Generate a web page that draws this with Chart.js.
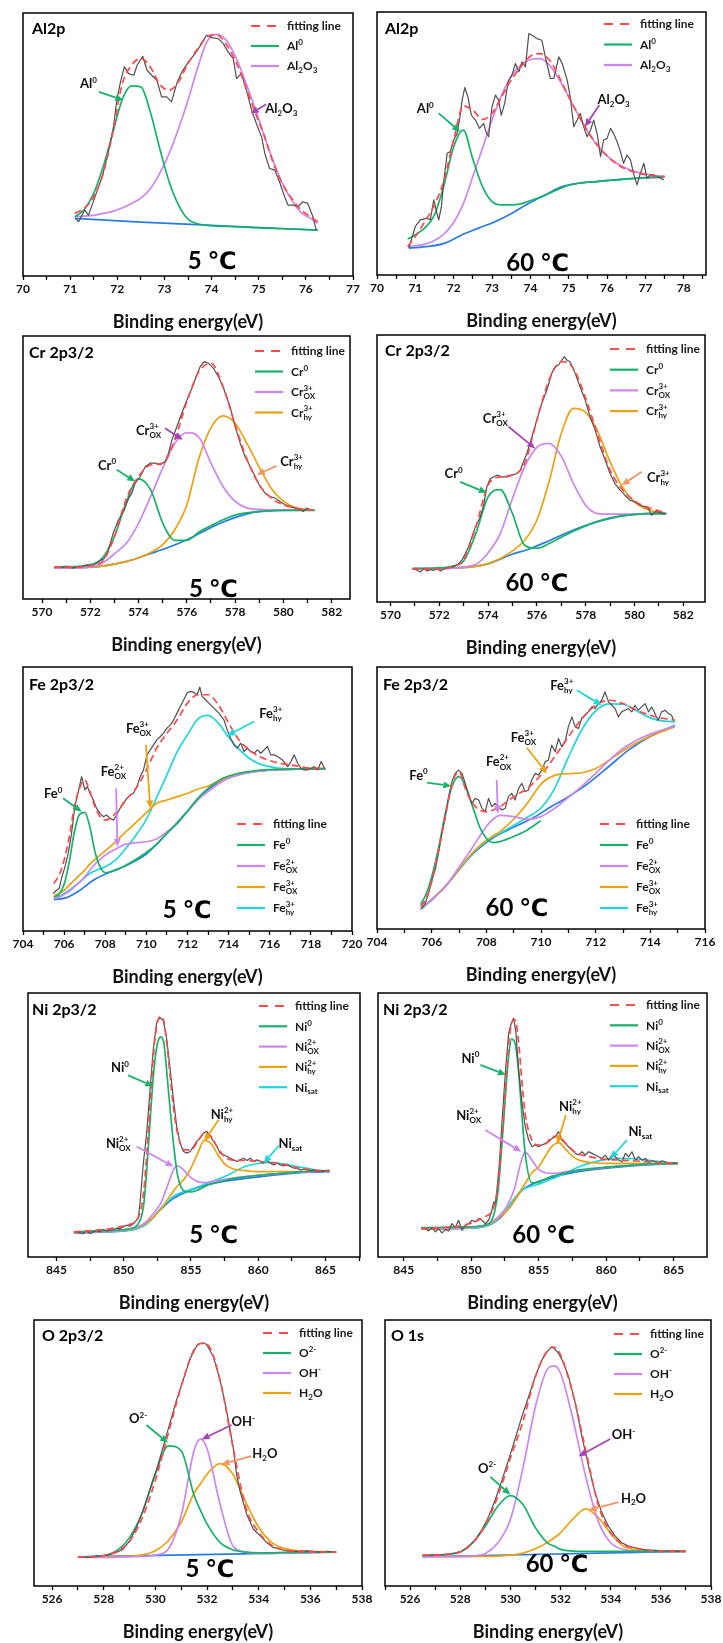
<!DOCTYPE html>
<html>
<head>
<meta charset="utf-8">
<script src="https://cdn.jsdelivr.net/npm/chart.js@4"></script>
<style>
html, body { margin: 0; padding: 0; background: #fff; }
#page { position: relative; width: 723px; height: 1643px; overflow: hidden; }
#page canvas { position: absolute; }
</style>
</head>
<body>
<div id="page"></div>
<script>
// ---- Al 2p, 5 C ----
const al5_rawE = [71.11,71.18,71.31,71.39,71.54,71.68,71.82,71.92,71.99,72.06,72.15,72.24,72.35,72.42,72.54,72.63,72.73,72.84,72.94,73.05,73.15,73.26,73.37,73.51,73.65,73.79,73.89,74.00,74.14,74.25,74.35,74.46,74.53,74.63,74.74,74.85,74.95,75.06,75.13,75.23,75.34,75.44,75.55,75.62,75.73,75.83,75.94,76.04,76.15,76.22];
const al5_raw = [173,163,198,183,243,298,378,448,528,578,628,608,603,633,660,618,603,588,538,538,523,578,613,643,668,698,723,716,713,698,673,653,593,608,558,498,458,418,368,323,318,283,238,213,213,208,223,218,178,138];
const al5_E = [71.1,71.3,71.5,71.7,71.9,72.1,72.3,72.5,72.7,72.9,73.1,73.3,73.5,73.7,73.9,74.1,74.3,74.5,74.7,74.9,75.1,75.3,75.5,75.7,75.9,76.1,76.25];
const al5_fit = [188,203,238,308,428,573,633,653,628,576,558,584,638,682,718,725,698,648,578,500,428,343,278,233,198,178,163];
const al5_al0 = [177,200,248,328,428,528,571,568,493,383,283,213,171,157,152,150,149,148,147,145,144,143,142,141,140,139,138];
const al5_al2o3 = [178,180,182,188,194,204,218,234,262,308,368,443,528,623,703,726,710,661,591,513,428,348,278,228,190,173,158];
const al5_bgE = [71.1,72.5,74.0,76.25];
const al5_bg = [173,162,152,138];

// ---- Al 2p, 60 C ----
const al60_rawE = [70.83,70.91,71.00,71.13,71.30,71.39,71.48,71.54,71.61,71.68,71.74,71.83,71.91,72.00,72.09,72.17,72.22,72.29,72.37,72.46,72.57,72.67,72.78,72.84,72.91,73.00,73.09,73.17,73.24,73.33,73.42,73.52,73.61,73.70,73.78,73.87,73.96,74.04,74.17,74.30,74.39,74.52,74.61,74.74,74.83,74.96,75.04,75.13,75.22,75.30,75.39,75.48,75.57,75.65,75.74,75.83,75.91,76.00,76.09,76.17,76.26,76.35,76.43,76.52,76.61,76.70,76.78,76.87,76.96,77.04,77.13,77.22,77.30,77.39,77.48];
const al60_raw = [81,111,146,166,171,166,226,196,166,206,281,366,371,406,426,481,526,564,536,481,466,441,456,431,416,506,541,526,481,516,581,601,636,611,641,626,726,721,711,706,656,591,591,656,636,586,536,446,466,486,446,416,436,466,426,356,406,411,441,426,401,371,336,361,346,301,271,306,336,291,301,301,296,291,286];
const al60_E = [70.8,71.0,71.25,71.5,71.75,72.0,72.25,72.5,72.75,73.0,73.25,73.5,73.75,74.0,74.25,74.5,74.75,75.0,75.25,75.5,75.75,76.0,76.25,76.5,76.75,77.0,77.25,77.5];
const al60_fit = [86,116,161,211,286,406,508,496,468,486,536,586,626,658,666,646,596,536,481,431,391,358,334,318,308,302,298,296];
const al60_al0 = [108,121,142,181,271,386,436,348,266,221,211,211,214,224,234,246,259,270,276,279,281,284,286,289,291,293,295,296];
const al60_al2o3 = [85,88,93,104,124,158,214,296,381,466,541,598,631,648,651,631,588,536,481,431,389,358,336,321,310,304,299,296];
const al60_bgE = [70.83,71.35,71.78,72.22,72.65,73.09,73.52,73.96,74.39,74.83,75.26,75.70,76.57,77.48];
const al60_bg = [81,86,96,121,141,161,186,216,241,266,276,281,289,294];

// ---- Cr 2p3/2, 5 C ----
const cr5_rawE = [570.69,570.83,571.03,571.24,571.45,571.66,571.86,572.07,572.28,572.41,572.55,572.69,572.83,572.97,573.17,573.38,573.59,573.72,573.86,574.07,574.28,574.48,574.69,574.90,575.10,575.24,575.38,575.59,575.79,576.00,576.21,576.41,576.55,576.72,576.90,577.10,577.31,577.52,577.79,578.00,578.21,578.41,578.62,578.83,579.03,579.24,579.45,579.66,579.86,580.07,580.28,580.48,580.69,580.83,580.97,581.10];
const cr5_raw = [93,96,98,93,96,98,103,100,108,116,120,133,168,203,238,263,303,318,348,368,398,408,408,403,413,438,478,518,558,598,633,673,698,713,708,693,668,633,578,518,468,428,398,368,338,318,308,303,293,283,278,273,268,263,273,268];
const cr5_E = [570.5,571,571.5,572,572.5,573,573.5,574,574.5,575,575.5,576,576.5,577,577.5,578,578.5,579,579.5,580,580.5,581,581.3];
const cr5_fit = [96,96,96,100,113,188,303,368,403,408,478,593,683,708,638,523,418,343,303,283,273,268,266];
const cr5_cr0 = [96,97,98,103,123,188,293,361,328,228,176,176,201,220,238,252,259,263,265,266,266,266,266];
const cr5_ox = [93,93,94,96,108,136,168,228,308,393,468,500,486,408,338,293,273,269,268,268,268,268,268];
const cr5_hy = [93,94,95,96,99,105,113,124,140,163,208,283,423,515,550,528,466,396,332,294,275,269,267];
const cr5_bgE = [570.69,572.41,573.52,574.48,575.17,576.00,576.55,577.24,577.93,578.76,579.59,581.10];
const cr5_bg = [93,98,113,136,153,178,198,223,243,260,266,267];

// ---- Cr 2p3/2, 60 C ----
const cr60_rawE = [570.95,571.09,571.23,571.36,571.50,571.64,571.77,571.91,572.05,572.18,572.39,572.59,572.80,572.93,573.07,573.20,573.34,573.48,573.68,573.82,573.95,574.09,574.23,574.36,574.57,574.77,574.98,575.18,575.32,575.45,575.59,575.80,576.00,576.20,576.41,576.61,576.75,576.89,577.02,577.13,577.23,577.36,577.57,577.77,577.98,578.18,578.39,578.59,578.80,579.00,579.20,579.41,579.61,579.82,580.02,580.23,580.43,580.57,580.70,580.84,580.98,581.11,581.25];
const cr60_raw = [100,95,90,100,93,97,95,100,93,99,103,105,115,125,145,165,195,225,255,290,345,370,375,380,375,375,380,385,395,420,445,495,545,595,635,685,705,710,725,735,725,720,685,645,605,555,515,465,425,385,355,335,320,305,300,290,285,280,260,270,270,267,265];
const cr60_E = [570.9,571.5,572,572.5,573,573.5,574,574.5,575,575.5,576,576.5,577,577.5,578,578.5,579,579.5,580,580.5,581,581.3];
const cr60_fit = [100,99,99,105,127,225,350,375,380,415,545,665,720,700,610,500,395,337,303,285,273,268];
const cr60_cr0 = [100,101,102,107,123,205,315,337,265,170,161,175,194,212,228,242,252,259,263,265,265,265];
const cr60_ox = [100,100,100,101,105,113,147,205,310,405,463,475,437,355,290,265,263,263,264,265,265,265];
const cr60_hy = [100,100,101,102,103,107,115,130,153,185,245,360,505,580,568,510,420,345,300,278,268,265];
const cr60_bgE = [570.95,572.93,574.02,574.98,575.66,576.48,577.30,578.11,578.93,579.75,580.57,581.31];
const cr60_bg = [100,103,115,143,158,183,210,232,249,260,265,265];

// ---- Fe 2p3/2, 5 C ----
const fe5_rawE = [705.47,705.63,705.76,705.87,706.04,706.20,706.36,706.52,706.69,706.85,707.01,707.13,707.26,707.42,707.58,707.75,707.91,708.07,708.23,708.40,708.56,708.72,708.89,709.05,709.21,709.37,709.54,709.70,709.86,710.03,710.19,710.35,710.51,710.68,710.84,711.00,711.17,711.33,711.49,711.65,711.82,711.98,712.14,712.31,712.47,712.60,712.71,712.88,713.04,713.28,713.53,713.77,713.93,714.10,714.26,714.42,714.59,714.75,714.91,715.07,715.24,715.40,715.56,715.73,715.89,716.05,716.21,716.38,716.62,716.87,717.03,717.19,717.36,717.52,717.68,717.84,718.01,718.17,718.33,718.50,718.66];
const fe5_raw = [112,122,127,157,192,232,292,372,417,462,422,432,412,392,367,352,342,347,337,332,347,367,382,397,407,412,432,462,482,527,542,557,572,582,592,607,617,632,652,672,692,712,717,714,707,730,702,692,682,667,652,632,602,577,557,547,562,537,547,537,532,542,532,542,552,527,527,522,512,492,507,527,502,487,482,482,487,492,482,507,487];
const fe5_E = [705.5,705.75,706,706.25,706.5,706.75,707,707.25,707.5,707.75,708,708.5,709,709.5,710,710.5,711,711.5,712,712.5,713,713.5,714,714.5,715,715.5,716,716.5,717,717.5,718,718.7];
const fe5_fit = [142,167,212,282,372,427,452,417,372,342,332,352,392,427,482,547,592,632,682,707,707,677,622,572,542,522,510,502,497,492,487,487];
const fe5_fe0 = [102,110,140,207,297,349,355,312,237,192,175,182,197,215,235,260,292,322,359,397,427,450,464,472,477,481,483,484,485,485,485,485];
const fe5_ox2 = [97,102,109,119,132,146,162,182,200,214,227,245,260,264,267,275,297,322,357,392,417,440,457,467,474,478,481,482,483,484,484,484];
const fe5_ox3 = [107,112,122,137,152,167,182,200,214,227,240,267,297,325,354,382,392,402,412,424,434,447,460,470,476,480,482,484,485,486,487,487];
const fe5_hy = [100,104,112,122,134,146,160,172,180,186,192,212,247,287,334,400,467,537,587,634,645,622,580,544,517,500,492,487,485,484,484,484];
const fe5_bgE = [705.50,706.12,706.77,707.42,708.07,709.05,710.03,711.00,711.98,712.96,713.93,714.91,715.89,717.19,718.71];
const fe5_bg = [94,100,122,152,172,197,232,292,357,422,457,474,481,484,485];

// ---- Fe 2p3/2, 60 C ----
const fe60_rawE = [705.64,705.77,705.89,706.01,706.13,706.25,706.38,706.50,706.62,706.74,706.86,706.98,707.11,707.23,707.35,707.47,707.59,707.72,707.84,707.96,708.08,708.20,708.32,708.45,708.57,708.69,708.81,708.93,709.05,709.18,709.30,709.42,709.54,709.66,709.79,709.91,710.03,710.15,710.27,710.39,710.52,710.64,710.76,710.88,711.00,711.13,711.25,711.37,711.49,711.61,711.73,711.86,711.98,712.10,712.22,712.34,712.47,712.59,712.71,712.83,712.95,713.07,713.20,713.32,713.44,713.56,713.68,713.81,713.93,714.05,714.17,714.29,714.41,714.54,714.66,714.78,714.84];
const fe60_raw = [63,78,108,148,178,228,288,338,398,443,468,478,468,438,398,378,393,388,363,353,393,368,378,368,358,363,398,408,388,423,438,413,418,448,468,463,478,503,508,553,533,573,548,563,608,638,608,603,633,643,653,668,663,678,688,713,683,673,663,638,653,658,663,653,673,658,668,678,653,668,648,628,653,658,648,643,628];
const fe60_E = [705.6,705.8,706,706.25,706.5,706.75,707,707.25,707.5,707.75,708,708.25,708.5,709,709.5,710,710.5,711,711.5,712,712.5,713,713.5,714,714.5,714.9];
const fe60_fit = [68,93,143,238,338,438,473,418,378,358,353,358,368,398,423,463,518,578,633,673,688,678,658,643,633,628];
const fe60_fe0 = [73,106,156,243,348,430,458,428,368,308,273,260,263,278,298,326,null,null,null,null,null,null,null,null,null,null];
const fe60_ox2 = [63,75,88,106,128,156,186,216,246,278,308,330,342,338,330,338,363,396,430,468,508,543,568,586,600,610];
const fe60_ox3 = [60,75,88,108,128,153,180,206,230,250,266,280,293,330,378,436,462,467,470,483,508,536,560,580,596,608];
const fe60_hy = [58,73,86,108,128,153,178,204,228,248,264,278,288,311,336,364,423,516,600,656,677,676,656,635,625,623];
const fe60_bgE = [705.60,706.50,707.47,708.32,709.05,709.79,710.27,711.00,711.73,712.47,713.20,713.93,714.89];
const fe60_bg = [58,128,223,278,308,338,363,398,438,488,538,576,613];

// ---- Ni 2p3/2, 5 C ----
const ni5_rawE = [846.49,846.74,846.99,847.24,847.48,847.73,847.98,848.23,848.48,848.73,848.98,849.22,849.47,849.72,849.97,850.22,850.47,850.71,850.96,851.09,851.21,851.34,851.46,851.71,851.96,852.20,852.45,852.70,852.95,853.20,853.45,853.70,853.94,854.19,854.44,854.69,854.94,855.19,855.43,855.68,855.93,856.18,856.43,856.68,856.93,857.17,857.42,857.67,857.92,858.17,858.42,858.66,858.91,859.16,859.41,859.66,859.91,860.16,860.40,860.65,860.90,861.15,861.40,861.65,861.89,862.14,862.39,862.64,862.89,863.14,863.39,863.63,863.88,864.13,864.38,864.63,864.88,865.25];
const ni5_raw = [75,72,70,78,70,75,80,75,82,78,80,82,86,84,90,95,92,100,110,120,160,220,280,370,500,620,700,715,705,650,560,470,390,340,315,310,315,330,345,355,370,375,360,345,330,310,305,300,295,290,285,290,295,288,295,285,290,285,280,288,280,275,280,275,272,275,270,265,265,260,262,260,258,260,255,255,258,255];
const ni5_E = [846.3,848,849.5,850.5,851,851.5,851.75,852,852.25,852.5,852.75,853,853.25,853.5,853.75,854,854.5,855,855.5,856,856.5,857,857.5,858,859,860,861,862,863,864,865.3];
const ni5_fit = [75,80,88,98,110,200,330,480,620,700,718,700,620,520,430,370,320,320,345,370,360,325,300,290,288,285,282,275,265,260,255];
const ni5_ni0 = [75,78,80,85,95,160,280,430,560,635,657,635,530,420,320,245,197,194,200,210,218,223,228,233,239,244,248,251,254,256,258];
const ni5_ox = [74,76,78,84,90,100,108,120,132,145,160,185,212,240,265,272,258,237,225,222,225,228,232,235,240,244,247,250,253,255,258];
const ni5_hy = [73,76,78,82,88,97,103,112,120,132,142,155,172,185,200,212,233,265,310,348,338,305,278,265,258,255,255,255,255,256,258];
const ni5_sat = [73,75,77,80,85,93,100,110,120,132,145,155,165,175,183,188,195,202,208,217,225,232,240,250,270,279,282,277,269,262,255];
const ni5_bgE = [846.29,850.49,851.71,852.70,853.70,854.69,855.68,856.93,858.17,860.65,863.14,865.25];
const ni5_bg = [72,80,100,140,175,195,210,222,230,242,252,255];

// ---- Ni 2p3/2, 60 C ----
const ni60_rawE = [846.60,846.85,847.10,847.35,847.59,847.84,848.09,848.33,848.58,848.83,849.07,849.32,849.57,849.81,850.06,850.31,850.56,850.80,851.05,851.30,851.54,851.67,851.79,851.91,852.09,852.28,852.53,852.78,852.98,853.15,853.32,853.52,853.77,854.01,854.26,854.51,854.75,855.00,855.25,855.49,855.74,855.99,856.23,856.48,856.73,856.98,857.22,857.47,857.72,857.96,858.21,858.46,858.70,858.95,859.20,859.44,859.69,859.94,860.19,860.43,860.68,860.93,861.17,861.42,861.67,861.91,862.16,862.41,862.65,862.90,863.15,863.40,863.64,863.89,864.14,864.38,864.63,865.00,865.25];
const ni60_raw = [85,78,88,75,85,72,82,78,100,88,110,80,95,100,110,105,115,110,100,110,140,165,160,200,280,400,550,670,700,715,670,560,460,390,350,330,335,330,335,340,345,355,360,375,350,340,330,320,310,305,315,305,315,310,305,300,295,305,290,305,300,290,285,310,300,315,290,300,290,295,285,288,285,282,288,285,280,282,280];
const ni60_E = [846.3,848,849.5,850.5,851,851.5,851.75,852,852.25,852.5,852.75,853,853.25,853.5,853.75,854,854.5,855,855.5,856,856.5,857,857.5,858,859,860,861,862,863,864,865.3];
const ni60_fit = [85,88,95,110,120,135,160,220,340,480,620,700,710,650,530,430,350,335,338,360,362,340,320,308,298,292,290,288,285,282,280];
const ni60_ni0 = [88,89,90,92,95,108,138,200,320,460,590,652,640,560,430,310,222,224,233,242,247,252,256,260,265,269,272,275,278,279,280];
const ni60_ox = [85,86,88,90,96,105,112,120,130,142,160,182,210,255,292,314,290,262,252,250,252,255,258,260,264,268,272,275,277,279,280];
const ni60_hy = [84,85,87,90,94,102,108,116,124,133,143,158,172,188,204,220,252,270,302,332,342,322,302,290,282,280,280,280,280,280,280];
const ni60_sat = [84,85,86,88,92,100,105,115,128,140,152,165,178,190,200,206,212,218,226,234,242,252,261,270,283,292,295,294,290,285,280];
const ni60_bgE = [846.31,850.51,851.79,852.78,853.77,854.75,855.74,857.22,859.20,861.67,865.30];
const ni60_bg = [84,88,105,145,200,222,235,250,262,272,280];

// ---- O, 5 C ----
const o5_rawE = [527.20,527.46,527.72,527.97,528.23,528.49,528.75,529.01,529.27,529.52,529.78,530.04,530.30,530.56,530.82,531.08,531.33,531.59,531.72,531.85,531.98,532.24,532.50,532.75,533.01,533.14,533.27,533.53,533.79,534.05,534.30,534.56,534.82,535.08,535.34,535.60,535.86,536.11,536.37,536.63,536.89];
const o5_raw = [87,85,89,91,93,100,110,135,175,225,285,345,415,485,555,615,675,715,723,725,720,685,615,525,415,335,285,215,170,150,130,115,110,105,103,103,105,103,101,103,101];
const o5_E = [527,527.5,528,528.5,529,529.5,530,530.5,531,531.5,531.75,532,532.5,533,533.5,534,534.5,535,535.5,536,537];
const o5_fit = [87,87,91,103,133,205,315,455,595,705,723,720,615,415,235,160,122,107,103,102,101];
const o5_o2 = [87,88,91,105,145,220,335,418,403,270,225,185,130,108,101,99,99,100,100,101,101];
const o5_oh = [85,85,85,86,87,88,92,110,210,405,438,410,245,120,101,97,97,98,99,100,101];
const o5_h2o = [87,87,87,88,89,93,105,135,190,277,305,333,365,333,250,175,130,112,105,103,101];
const o5_bgE = [527,537];
const o5_bg = [87,101];

// ---- O 1s, 60 C ----
const o60_rawE = [526.49,526.75,527.02,527.28,527.55,527.81,528.08,528.34,528.61,528.87,529.14,529.40,529.67,529.93,530.20,530.46,530.73,530.99,531.26,531.46,531.66,531.79,531.92,532.06,532.32,532.59,532.85,533.12,533.38,533.65,533.91,534.18,534.44,534.71,534.97,535.24,535.50,535.77,536.03,536.56,536.96];
const o60_raw = [92,92,93,94,96,100,105,120,140,170,210,260,320,380,445,510,570,630,680,705,720,710,700,680,630,550,450,360,280,220,180,150,130,120,115,110,108,107,106,105,104];
const o60_E = [526.5,527.5,528,528.5,529,529.5,530,530.5,531,531.5,531.75,532,532.5,533,533.5,534,534.5,535,535.5,536,537];
const o60_fit = [92,95,102,130,185,270,385,495,630,710,718,695,575,410,245,160,125,114,108,106,104];
const o60_o2 = [92,95,102,130,180,240,272,245,175,128,120,110,105,104,104,104,104,104,104,104,104];
const o60_oh = [88,88,89,90,98,130,200,355,540,655,662,640,500,330,195,130,110,105,104,104,104];
const o60_h2o = [88,88,88,89,89,90,93,99,112,132,145,160,202,232,206,158,120,109,106,105,104];
const o60_bgE = [526.5,537];
const o60_bg = [88,104];

const GREEN = '#17b26a', PURPLE = '#cd86f0', ORANGE = '#eba20f', CYAN = '#1fd6de';
const BLUE = '#2a7ce0', RED = '#ff4848', GRAY = '#505050', DPURP = '#a545b5', SALMON = '#f49363';
const FONT = 'Lato, "DejaVu Sans", sans-serif';
const XTITLE = 'Binding energy(eV)';

function fit(label, E, Y) { return { label, E, Y, kind: 'fit' }; }
function raw(E, Y) { return { E, Y, kind: 'raw' }; }
function comp(label, E, Y, color) { return { label, E, Y, color, kind: 'comp' }; }
function bg(E, Y) { return { E, Y, kind: 'bg' }; }

const panels = [
  { L: 23, T: 13, R: 353, B: 276, xmin: 70, xmax: 77, ymax: 790, minor: 0.5, major: 1,
    title: 'Al2p', tx: 9, ty: 16, temp: '5 ℃', tempAt: [74.01, 43], legend: [228, 13, 20],
    series: [fit('fitting line', al5_E, al5_fit), raw(al5_rawE, al5_raw),
      comp('Al^{0}', al5_E, al5_al0, GREEN), comp('Al_{2}O_{3}', al5_E, al5_al2o3, PURPLE), bg(al5_bgE, al5_bg)],
    notes: [
      { t: 'Al^{0}', at: [71.39, 578], from: [71.61, 553], to: [72.13, 528], c: GREEN },
      { t: 'Al_{2}O_{3}', at: [75.48, 503], from: [75.16, 516], to: [74.83, 488], c: DPURP }] },
  { L: 377, T: 12, R: 706, B: 275, xmin: 70, xmax: 78.58, ymax: 791, minor: 0.5, major: 1,
    title: 'Al2p', tx: 8, ty: 17, temp: '60 ℃', tempAt: [74.19, 36], legend: [227, 12, 20.5],
    series: [fit('fitting line', al60_E, al60_fit), raw(al60_rawE, al60_raw),
      comp('Al^{0}', al60_E, al60_al0, GREEN), comp('Al_{2}O_{3}', al60_E, al60_al2o3, PURPLE), bg(al60_bgE, al60_bg)],
    notes: [
      { t: 'Al^{0}', at: [71.26, 501], from: [71.61, 486], to: [72.17, 431], c: GREEN },
      { t: 'Al_{2}O_{3}', at: [76.17, 528], from: [75.80, 511], to: [75.42, 446], c: DPURP }] },
  { L: 23, T: 336, R: 350, B: 599, xmin: 569.21, xmax: 582.76, ymax: 790, minor: 1, major: 2,
    title: 'Cr 2p3/2', tx: 6, ty: 17, temp: '5 ℃', tempAt: [577.10, 28], legend: [232, 15, 20.5],
    series: [fit('fitting line', cr5_E, cr5_fit), raw(cr5_rawE, cr5_raw),
      comp('Cr^{0}', cr5_E, cr5_cr0, GREEN), comp('Cr^{3+}_{OX}', cr5_E, cr5_ox, PURPLE),
      comp('Cr^{3+}_{hy}', cr5_E, cr5_hy, ORANGE), bg(cr5_bgE, cr5_bg)],
    notes: [
      { t: 'Cr^{0}', at: [572.69, 403], from: [573.10, 388], to: [573.86, 353], c: GREEN },
      { t: 'Cr^{3+}_{OX}', at: [574.41, 508], from: [575.10, 513], to: [575.83, 478], c: DPURP },
      { t: 'Cr^{3+}_{hy}', at: [580.34, 413], from: [579.72, 400], to: [578.90, 373], c: SALMON }] },
  { L: 377, T: 335, R: 705, B: 602, xmin: 569.45, xmax: 582.89, ymax: 800, minor: 1, major: 2,
    title: 'Cr 2p3/2', tx: 8, ty: 16, temp: '60 ℃', tempAt: [576.00, 55], legend: [233, 14, 20.7],
    series: [fit('fitting line', cr60_E, cr60_fit), raw(cr60_rawE, cr60_raw),
      comp('Cr^{0}', cr60_E, cr60_cr0, GREEN), comp('Cr^{3+}_{OX}', cr60_E, cr60_ox, PURPLE),
      comp('Cr^{3+}_{hy}', cr60_E, cr60_hy, ORANGE), bg(cr60_bgE, cr60_bg)],
    notes: [
      { t: 'Cr^{0}', at: [572.59, 385], from: [572.86, 360], to: [573.95, 327], c: GREEN },
      { t: 'Cr^{3+}_{OX}', at: [574.30, 550], from: [574.84, 525], to: [575.93, 460], c: DPURP },
      { t: 'Cr^{3+}_{hy}', at: [580.98, 375], from: [580.30, 390], to: [579.48, 350], c: SALMON }] },
  { L: 23, T: 667, R: 352, B: 931, xmin: 704, xmax: 720, ymax: 790, minor: 1, major: 2,
    title: 'Fe 2p3/2', tx: 6, ty: 18, temp: '5 ℃', tempAt: [711.98, 62], legend: [214, 157, 21],
    series: [fit('fitting line', fe5_E, fe5_fit), raw(fe5_rawE, fe5_raw),
      comp('Fe^{0}', fe5_E, fe5_fe0, GREEN), comp('Fe^{2+}_{OX}', fe5_E, fe5_ox2, PURPLE),
      comp('Fe^{3+}_{OX}', fe5_E, fe5_ox3, ORANGE), comp('Fe^{3+}_{hy}', fe5_E, fe5_hy, CYAN), bg(fe5_bgE, fe5_bg)],
    notes: [
      { t: 'Fe^{0}', at: [705.47, 412], from: [705.95, 397], to: [706.85, 357], c: GREEN },
      { t: 'Fe^{2+}_{OX}', at: [708.40, 477], from: [708.53, 427], to: [708.59, 252], c: PURPLE },
      { t: 'Fe^{3+}_{OX}', at: [709.62, 607], from: [709.98, 557], to: [710.19, 367], c: ORANGE },
      { t: 'Fe^{3+}_{hy}', at: [716.05, 652], from: [715.24, 627], to: [713.93, 584], c: CYAN }] },
  { L: 377, T: 667, R: 705, B: 929, xmin: 704, xmax: 716, ymax: 788, minor: 1, major: 2,
    title: 'Fe 2p3/2', tx: 6, ty: 18, temp: '60 ℃', tempAt: [709.12, 63], legend: [223, 157, 21],
    series: [fit('fitting line', fe60_E, fe60_fit), raw(fe60_rawE, fe60_raw),
      comp('Fe^{0}', fe60_E, fe60_fe0, GREEN), comp('Fe^{2+}_{OX}', fe60_E, fe60_ox2, PURPLE),
      comp('Fe^{3+}_{OX}', fe60_E, fe60_ox3, ORANGE), comp('Fe^{3+}_{hy}', fe60_E, fe60_hy, CYAN), bg(fe60_bgE, fe60_bg)],
    notes: [
      { t: 'Fe^{0}', at: [705.52, 463], from: [705.83, 440], to: [706.72, 430], c: GREEN },
      { t: 'Fe^{2+}_{OX}', at: [708.45, 503], from: [708.38, 448], to: [708.42, 346], c: PURPLE },
      { t: 'Fe^{3+}_{OX}', at: [709.36, 578], from: [709.48, 546], to: [710.21, 468], c: ORANGE },
      { t: 'Fe^{3+}_{hy}', at: [710.76, 733], from: [711.31, 718], to: [712.22, 673], c: CYAN }] },
  { L: 28, T: 993, R: 360, B: 1257, xmin: 842.89, xmax: 867.56, ymax: 788, minor: 2.5, major: 5,
    title: 'Ni 2p3/2', tx: 4, ty: 17, temp: '5 ℃', tempAt: [856.68, 65], legend: [231, 13, 20.3],
    series: [fit('fitting line', ni5_E, ni5_fit), raw(ni5_rawE, ni5_raw),
      comp('Ni^{0}', ni5_E, ni5_ni0, GREEN), comp('Ni^{2+}_{OX}', ni5_E, ni5_ox, PURPLE),
      comp('Ni^{2+}_{hy}', ni5_E, ni5_hy, ORANGE), comp('Ni_{sat}', ni5_E, ni5_sat, CYAN), bg(ni5_bgE, ni5_bg)],
    notes: [
      { t: 'Ni^{0}', at: [849.72, 565], from: [850.34, 542], to: [852.20, 510], c: GREEN },
      { t: 'Ni^{2+}_{OX}', at: [849.60, 340], from: [850.96, 330], to: [853.70, 270], c: PURPLE },
      { t: 'Ni^{2+}_{hy}', at: [857.30, 425], from: [857.05, 410], to: [855.98, 345], c: ORANGE },
      { t: 'Ni_{sat}', at: [862.39, 340], from: [861.52, 332], to: [860.40, 280], c: CYAN }] },
  { L: 378, T: 993, R: 707, B: 1257, xmin: 843.10, xmax: 867.47, ymax: 790, minor: 2.5, major: 5,
    title: 'Ni 2p3/2', tx: 5, ty: 17, temp: '60 ℃', tempAt: [855.37, 65], legend: [232, 12, 20.3],
    series: [fit('fitting line', ni60_E, ni60_fit), raw(ni60_rawE, ni60_raw),
      comp('Ni^{0}', ni60_E, ni60_ni0, GREEN), comp('Ni^{2+}_{OX}', ni60_E, ni60_ox, PURPLE),
      comp('Ni^{2+}_{hy}', ni60_E, ni60_hy, ORANGE), comp('Ni_{sat}', ni60_E, ni60_sat, CYAN), bg(ni60_bgE, ni60_bg)],
    notes: [
      { t: 'Ni^{0}', at: [849.94, 595], from: [850.68, 575], to: [852.58, 545], c: GREEN },
      { t: 'Ni^{2+}_{OX}', at: [849.81, 425], from: [851.05, 380], to: [853.72, 315], c: PURPLE },
      { t: 'Ni^{2+}_{hy}', at: [857.35, 450], from: [857.02, 425], to: [856.36, 338], c: ORANGE },
      { t: 'Ni_{sat}', at: [862.53, 375], from: [861.54, 350], to: [860.31, 295], c: CYAN }] },
  { L: 34, T: 1320, R: 362, B: 1586, xmin: 525.3, xmax: 538, ymax: 793, minor: 1, major: 2,
    title: 'O 2p3/2', tx: 8, ty: 16, temp: '5 ℃', tempAt: [532.11, 50], legend: [229, 13, 20],
    series: [fit('fitting line', o5_E, o5_fit), raw(o5_rawE, o5_raw),
      comp('O^{2-}', o5_E, o5_o2, GREEN), comp('OH^{-}', o5_E, o5_oh, PURPLE),
      comp('H_{2}O', o5_E, o5_h2o, ORANGE), bg(o5_bgE, o5_bg)],
    notes: [
      { t: 'O^{2-}', at: [529.33, 500], from: [529.65, 480], to: [530.49, 427], c: GREEN },
      { t: 'OH^{-}', at: [533.40, 490], from: [532.95, 480], to: [531.79, 437], c: DPURP },
      { t: 'H_{2}O', at: [534.24, 395], from: [533.72, 387], to: [532.56, 363], c: SALMON }] },
  { L: 385, T: 1320, R: 711, B: 1586, xmin: 525, xmax: 538, ymax: 800, minor: 1, major: 2,
    title: 'O 1s', tx: 6, ty: 16, temp: '60 ℃', tempAt: [531.86, 65], legend: [229, 14, 20],
    series: [fit('fitting line', o60_E, o60_fit), raw(o60_rawE, o60_raw),
      comp('O^{2-}', o60_E, o60_o2, GREEN), comp('OH^{-}', o60_E, o60_oh, PURPLE),
      comp('H_{2}O', o60_E, o60_h2o, ORANGE), bg(o60_bgE, o60_bg)],
    notes: [
      { t: 'O^{2-}', at: [529.07, 355], from: [529.20, 328], to: [530.00, 275], c: GREEN },
      { t: 'OH^{-}', at: [534.51, 455], from: [533.98, 442], to: [532.72, 390], c: DPURP },
      { t: 'H_{2}O', at: [534.91, 265], from: [534.31, 252], to: [533.12, 228], c: SALMON }] }
];

// text with ^{sup}, _{sub} and stacked ^{..}_{..}
function parseRich(s) {
  const segs = [];
  const re = /\^\{([^}]*)\}_\{([^}]*)\}|\^\{([^}]*)\}|_\{([^}]*)\}|([^^_]+)/g;
  let m;
  while ((m = re.exec(s))) {
    if (m[1] !== undefined) segs.push({ k: 'ss', a: m[1], b: m[2] });
    else if (m[3] !== undefined) segs.push({ k: 'sup', a: m[3] });
    else if (m[4] !== undefined) segs.push({ k: 'sub', a: m[4] });
    else segs.push({ k: 'n', a: m[5] });
  }
  return segs;
}

function drawRich(ctx, s, x, y, size, color, align) {
  const big = `bold ${size}px ${FONT}`;
  const sm = `bold ${Math.round(size * 0.64)}px ${FONT}`;
  const segs = parseRich(s);
  let W = 0;
  segs.forEach(g => {
    ctx.font = g.k === 'n' ? big : sm;
    g.w = g.k === 'ss' ? Math.max(ctx.measureText(g.a).width, ctx.measureText(g.b).width) : ctx.measureText(g.a).width;
    W += g.w;
  });
  let cx = align === 'left' ? x : x - W / 2;
  const yb = y + size * 0.36;
  ctx.save();
  ctx.fillStyle = color;
  ctx.textAlign = 'left';
  ctx.textBaseline = 'alphabetic';
  segs.forEach(g => {
    if (g.k === 'n') { ctx.font = big; ctx.fillText(g.a, cx, yb); }
    else {
      ctx.font = sm;
      if (g.k === 'sup') ctx.fillText(g.a, cx, yb - size * 0.42);
      if (g.k === 'sub') ctx.fillText(g.a, cx, yb + size * 0.22);
      if (g.k === 'ss') { ctx.fillText(g.a, cx, yb - size * 0.46); ctx.fillText(g.b, cx, yb + size * 0.24); }
    }
    cx += g.w;
  });
  ctx.restore();
}

function arrow(ctx, x1, y1, x2, y2, color) {
  const a = Math.atan2(y2 - y1, x2 - x1), hl = 8, hw = 3.5;
  const bx = x2 - hl * Math.cos(a), by = y2 - hl * Math.sin(a);
  ctx.save();
  ctx.strokeStyle = color; ctx.fillStyle = color; ctx.lineWidth = 1.8;
  ctx.beginPath(); ctx.moveTo(x1, y1); ctx.lineTo(bx, by); ctx.stroke();
  ctx.beginPath(); ctx.moveTo(x2, y2);
  ctx.lineTo(bx - hw * Math.sin(a), by + hw * Math.cos(a));
  ctx.lineTo(bx + hw * Math.sin(a), by - hw * Math.cos(a));
  ctx.closePath(); ctx.fill();
  ctx.restore();
}

function decoPlugin(p) {
  return {
    id: 'deco',
    afterDatasetsDraw(chart) {
      const ctx = chart.ctx, a = chart.chartArea;
      const xs = chart.scales.x, ys = chart.scales.y;
      ctx.save();
      ctx.strokeStyle = '#000'; ctx.lineWidth = 1.5;
      ctx.strokeRect(a.left, a.top, a.right - a.left, a.bottom - a.top);

      ctx.fillStyle = '#000'; ctx.textBaseline = 'middle';
      ctx.font = `bold 16px ${FONT}`; ctx.textAlign = 'left';
      ctx.fillText(p.title, a.left + p.tx, a.top + p.ty);
      ctx.font = `bold 24px ${FONT}`; ctx.textAlign = 'center';
      ctx.fillText(p.temp, xs.getPixelForValue(p.tempAt[0]), ys.getPixelForValue(p.tempAt[1]));

      // legend: line sample + label
      let row = 0;
      chart.data.datasets.forEach(d => {
        if (!d.inLegend) return;
        const yy = a.top + p.legend[1] + row * p.legend[2];
        const x0 = a.left + p.legend[0];
        ctx.save();
        ctx.strokeStyle = d.borderColor; ctx.lineWidth = 2.2;
        ctx.setLineDash(d.borderDash ? [9, 7] : []);
        ctx.beginPath(); ctx.moveTo(x0, yy); ctx.lineTo(x0 + 28, yy); ctx.stroke();
        ctx.restore();
        drawRich(ctx, d.label, x0 + 36, yy, 12, '#1a1a1a', 'left');
        row++;
      });

      p.notes.forEach(n => {
        arrow(ctx, xs.getPixelForValue(n.from[0]), ys.getPixelForValue(n.from[1]),
          xs.getPixelForValue(n.to[0]), ys.getPixelForValue(n.to[1]), n.c);
        drawRich(ctx, n.t, xs.getPixelForValue(n.at[0]), ys.getPixelForValue(n.at[1]), 13, '#111', 'center');
      });
      ctx.restore();
    }
  };
}

function toDataset(s) {
  const data = s.E.map((x, i) => ({ x, y: s.Y[i] }));
  if (s.kind === 'fit') return { label: s.label, data, borderColor: RED, borderWidth: 1.7, borderDash: [7, 4], cubicInterpolationMode: 'monotone', inLegend: true };
  if (s.kind === 'raw') return { label: 'raw', data, borderColor: GRAY, borderWidth: 1.2, tension: 0 };
  if (s.kind === 'bg') return { label: 'background', data, borderColor: BLUE, borderWidth: 1.7, cubicInterpolationMode: 'monotone' };
  return { label: s.label, data, borderColor: s.color, borderWidth: 1.7, cubicInterpolationMode: 'monotone', inLegend: true };
}

const page = document.getElementById('page');
const PADL = 25, PADR = 25, PADT = 5, AXH = 58;

panels.forEach(p => {
  const c = document.createElement('canvas');
  const W = (p.R - p.L) + PADL + PADR, H = (p.B - p.T) + PADT + AXH;
  c.width = W; c.height = H;
  c.style.width = W + 'px'; c.style.height = H + 'px';
  c.style.left = (p.L - PADL) + 'px'; c.style.top = (p.T - PADT) + 'px';
  page.appendChild(c);

  new Chart(c, {
    type: 'line',
    data: { datasets: p.series.map(toDataset) },
    options: {
      responsive: false,
      animation: false,
      devicePixelRatio: 1,
      layout: { padding: { left: PADL, right: PADR, top: PADT, bottom: 0 } },
      elements: { point: { radius: 0 }, line: { borderJoinStyle: 'round' } },
      plugins: { legend: { display: false }, tooltip: { enabled: false } },
      scales: {
        x: {
          type: 'linear', position: 'bottom', min: p.xmin, max: p.xmax,
          afterFit: s => { s.height = AXH; },
          border: { display: false },
          grid: { display: true, drawOnChartArea: false, drawTicks: true, tickLength: 4, tickColor: '#000', tickWidth: 1.3 },
          ticks: {
            stepSize: p.minor, includeBounds: false, autoSkip: false, maxRotation: 0, maxTicksLimit: 200,
            padding: 2, color: '#111', font: { family: FONT, size: 12, weight: 'bold' },
            callback: v => Math.abs(v / p.major - Math.round(v / p.major)) < 1e-6 ? String(Math.round(v)) : ''
          },
          title: { display: true, text: XTITLE, color: '#111', font: { family: FONT, size: 18, weight: 'bold' }, padding: { top: 0, bottom: 1 } }
        },
        y: { display: false, min: 0, max: p.ymax }
      }
    },
    plugins: [decoPlugin(p)]
  });
});
</script>
</body>
</html>
